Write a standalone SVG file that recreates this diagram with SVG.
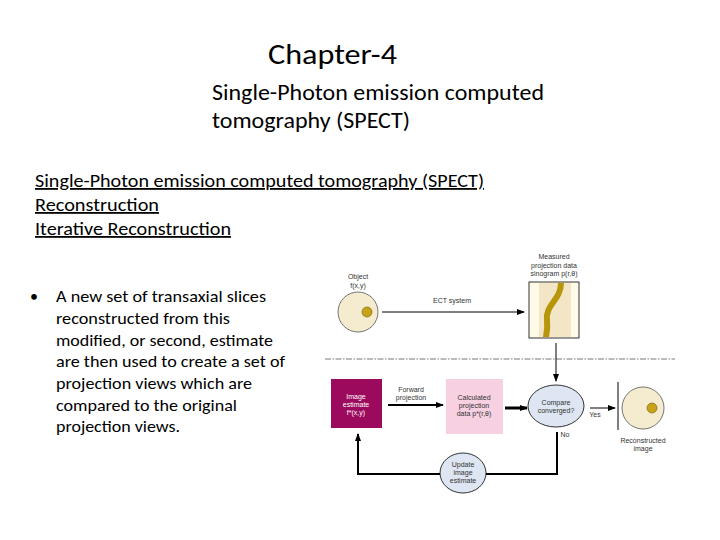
<svg xmlns="http://www.w3.org/2000/svg" width="720" height="540" viewBox="0 0 720 540">
<style>
.t{font-family:Calibri,Carlito,"Liberation Sans",sans-serif;fill:#000}
.s{font-family:"Liberation Sans",sans-serif;font-size:7px;fill:#333;text-anchor:middle}
.ln{stroke:#000;fill:none}
</style>
<defs>
<marker id="a" markerWidth="8" markerHeight="8" refX="7" refY="4" orient="auto" markerUnits="userSpaceOnUse"><path d="M0,1 L8,4 L0,7z" fill="#000"/></marker>
</defs>
<rect width="720" height="540" fill="#fff"/>
<text class="t" x="268" y="64" font-size="28" textLength="129" lengthAdjust="spacingAndGlyphs">Chapter-4</text>
<text class="t" x="212" y="100" font-size="23" textLength="332" lengthAdjust="spacingAndGlyphs">Single-Photon emission computed</text>
<text class="t" x="212" y="128" font-size="23" textLength="198" lengthAdjust="spacingAndGlyphs">tomography (SPECT)</text>
<g id="headings" class="t" font-size="18" text-decoration="underline">
<text x="35" y="187" textLength="449" lengthAdjust="spacingAndGlyphs">Single-Photon emission computed tomography (SPECT)</text>
<text x="35" y="211" textLength="124" lengthAdjust="spacingAndGlyphs">Reconstruction</text>
<text x="35" y="235" textLength="196" lengthAdjust="spacingAndGlyphs">Iterative Reconstruction</text>
</g>
<g id="bullet" class="t" font-size="16">
<text x="30" y="302">•</text>
<text x="56" y="302" textLength="210" lengthAdjust="spacingAndGlyphs">A new set of transaxial slices</text>
<text x="56" y="324" textLength="174" lengthAdjust="spacingAndGlyphs">reconstructed from this</text>
<text x="56" y="346" textLength="217" lengthAdjust="spacingAndGlyphs">modified, or second, estimate</text>
<text x="56" y="367" textLength="229" lengthAdjust="spacingAndGlyphs">are then used to create a set of</text>
<text x="56" y="389" textLength="196" lengthAdjust="spacingAndGlyphs">projection views which are</text>
<text x="56" y="411" textLength="181" lengthAdjust="spacingAndGlyphs">compared to the original</text>
<text x="56" y="432" textLength="124" lengthAdjust="spacingAndGlyphs">projection views.</text>
</g>
<g id="object"><circle cx="358" cy="312" r="20" fill="#f5ecd0" stroke="#555" stroke-width="0.8"/><circle cx="367" cy="312" r="5" fill="#c8a218" stroke="#6b5a00" stroke-width="0.6"/>
<text class="s" x="358" y="279">Object</text><text class="s" x="358" y="288">f(x,y)</text></g>
<g id="sinogram"><rect x="529" y="282" width="50" height="56" fill="#fffbe8" stroke="#000" stroke-width="0.8"/><rect x="539" y="283" width="32" height="54" fill="#f3e6c6"/>
<path d="M561,283 C561,300 545,305 547,320 C548,330 546,335 546,337" stroke="#b8960c" stroke-width="6" fill="none"/>
<text class="s" x="554" y="259">Measured</text><text class="s" x="554" y="268">projection data</text><text class="s" x="554" y="276">sinogram p(r,θ)</text></g>
<g id="estimate"><rect x="331" y="379" width="51" height="49" fill="#9b0a5c"/>
<text class="s" x="356" y="399" style="fill:#fff">Image</text><text class="s" x="356" y="407" style="fill:#fff">estimate</text><text class="s" x="356" y="415" style="fill:#fff">f*(x,y)</text></g>
<g id="calculated"><rect x="446" y="379" width="57" height="55" fill="#f7d0e2"/>
<text class="s" x="474" y="400">Calculated</text><text class="s" x="474" y="408">projection</text><text class="s" x="474" y="416">data p*(r,θ)</text></g>
<g id="compare"><ellipse cx="556" cy="406" rx="28" ry="21" fill="#dde6f2" stroke="#000" stroke-width="0.8"/>
<text class="s" x="556" y="405">Compare</text><text class="s" x="556" y="413">converged?</text></g>
<g id="reconstructed"><circle cx="643" cy="408" r="21" fill="#f5ecd0" stroke="#555" stroke-width="0.8"/><circle cx="652" cy="408" r="5" fill="#c8a218" stroke="#6b5a00" stroke-width="0.6"/>
<text class="s" x="643" y="443">Reconstructed</text><text class="s" x="643" y="451">image</text></g>
<g id="update"><ellipse cx="463" cy="473" rx="23" ry="20" fill="#dde6f2" stroke="#000" stroke-width="0.8"/>
<text class="s" x="463" y="467">Update</text><text class="s" x="463" y="475">image</text><text class="s" x="463" y="483">estimate</text></g>
<g id="connectors">
<line class="ln" x1="382" y1="312" x2="524" y2="312" marker-end="url(#a)"/>
<text class="s" x="452" y="303">ECT system</text>
<line x1="325" y1="359" x2="675" y2="359" stroke="#555" stroke-width="0.8" stroke-dasharray="6,1.5,1.5,1.5"/>
<line class="ln" x1="556" y1="343" x2="556" y2="381" marker-end="url(#a)"/>
<line class="ln" x1="388" y1="405" x2="443" y2="405" stroke-width="2" marker-end="url(#a)"/>
<text class="s" x="411" y="392">Forward</text><text class="s" x="411" y="400">projection</text>
<line class="ln" x1="505" y1="408" x2="527" y2="408" stroke-width="3" marker-end="url(#a)"/>
<line class="ln" x1="590" y1="408" x2="615" y2="408" marker-end="url(#a)"/>
<text class="s" x="595" y="417">Yes</text>
<line class="ln" x1="618" y1="382" x2="618" y2="430"/>
<text class="s" x="565" y="437">No</text>
<path class="ln" d="M557,432 V474 H486 M440,474 H358 V434" stroke-width="2" marker-end="url(#a)"/>
</g>
</svg>
